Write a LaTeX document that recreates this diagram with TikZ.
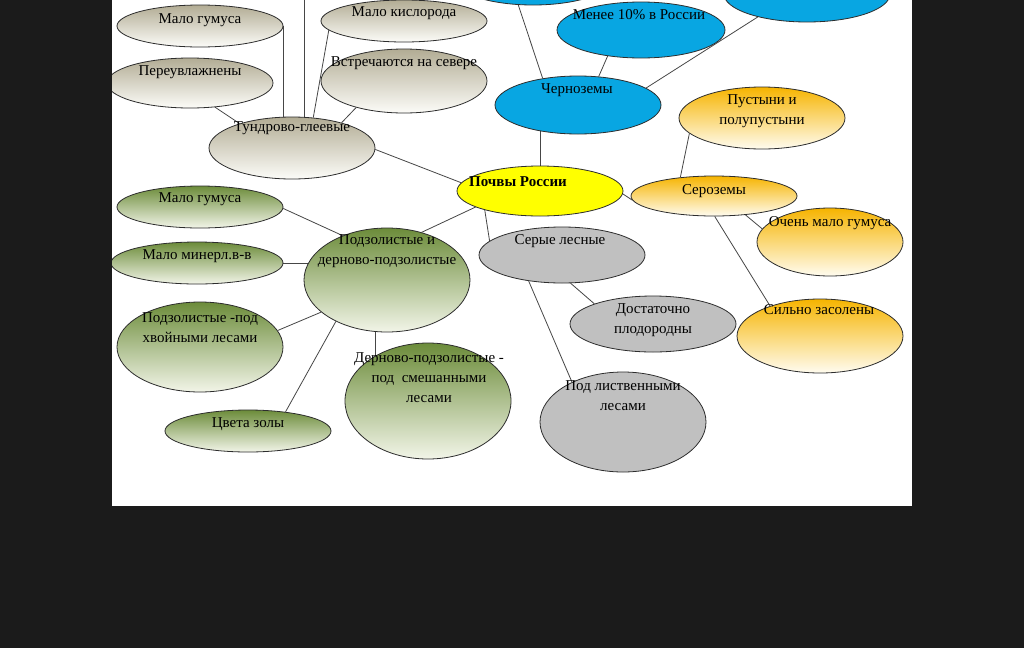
\documentclass[tikz,border=0pt]{standalone}
\usepackage{fontspec}
\setmainfont{Liberation Serif}
\usetikzlibrary{shapes.geometric}
\pgfdeclarelayer{bg}
\pgfsetlayers{bg,main}
\definecolor{dark}{RGB}{27,27,27}
\definecolor{edge}{RGB}{45,45,45}
\definecolor{conncol}{RGB}{70,70,70}
\definecolor{tunT}{RGB}{178,172,148}
\definecolor{tunB}{RGB}{252,252,248}
\definecolor{grnT}{RGB}{108,140,58}
\definecolor{grnB}{RGB}{242,245,232}
\definecolor{orT}{RGB}{246,180,0}
\definecolor{orB}{RGB}{255,252,240}
\definecolor{blu}{RGB}{8,166,226}
\definecolor{gry}{RGB}{192,192,192}
\definecolor{yel}{RGB}{255,255,0}
\tikzset{
  ell/.style={ellipse, draw=edge, line width=0.8pt, inner sep=0pt},
  tun/.style={ell, top color=tunT, bottom color=tunB},
  grn/.style={ell, top color=grnT, bottom color=grnB},
  orng/.style={ell, top color=orT, bottom color=orB},
  blue/.style={ell, fill=blu},
  grey/.style={ell, fill=gry},
  yell/.style={ell, fill=yel},
  txt/.style={align=center, inner sep=0pt, font=\fontsize{15}{20}\selectfont, text=black},
  conn/.style={draw=conncol, line width=0.8pt},
}
\begin{document}
\begin{tikzpicture}[x=1pt,y=-1pt]
\useasboundingbox (0,0) rectangle (1024,648);

% tundra group
\node[tun, minimum width=166, minimum height=42] (t1) at (200,26) {};
\node[tun, minimum width=166, minimum height=42] (mk) at (404,21) {};
\node[tun, minimum width=166, minimum height=50] (pv) at (190,83) {};
\node[tun, minimum width=166, minimum height=64] (vs) at (404,81) {};
\node[tun, minimum width=166, minimum height=62] (tg) at (292,148) {};

% blue group
\node[blue, minimum width=166, minimum height=58] (bl1) at (533,-24) {};
\node[blue, minimum width=166, minimum height=56] (bl2) at (807,-6) {};
\node[blue, minimum width=168, minimum height=56] (mn) at (641,30) {};
\node[blue, minimum width=166, minimum height=58] (ch) at (578,105) {};

% centre
\node[yell, minimum width=166, minimum height=50] (pr) at (540,191) {};

% orange group
\node[orng, minimum width=166, minimum height=62] (pp) at (762,118) {};
\node[orng, minimum width=166, minimum height=40] (sz) at (714,196) {};
\node[orng, minimum width=146, minimum height=68] (om) at (830,242) {};
\node[orng, minimum width=166, minimum height=74] (sl) at (820,336) {};

% grey group
\node[grey, minimum width=166, minimum height=56] (se) at (562,255) {};
\node[grey, minimum width=166, minimum height=56] (dp) at (653,324) {};
\node[grey, minimum width=166, minimum height=100] (pl) at (623,422) {};

% green group
\node[grn, minimum width=166, minimum height=42] (gm) at (200,207) {};
\node[grn, minimum width=172, minimum height=42] (mm) at (197,263) {};
\node[grn, minimum width=166, minimum height=104] (pz) at (387,280) {};
\node[grn, minimum width=166, minimum height=90] (ph) at (200,347) {};
\node[grn, minimum width=166, minimum height=42] (cz) at (248,431) {};
\node[grn, minimum width=166, minimum height=116] (dz) at (428,401) {};

% texts
\node[txt] (t1t) at (200,20.5) {Мало гумуса};
\node[txt] (mkt) at (404,13.5) {Мало кислорода};
\node[txt] (pvt) at (190,72.5) {Переувлажнены};
\node[txt] (vst) at (404,63.5) {Встречаются на севере};
\node[txt] (tgt) at (292,128.5) {Тундрово-глеевые};
\node[txt] (mnt) at (639,14.5) {Менее 10\% в России};
\node[txt] (cht) at (577,90.5) {Черноземы};
\node[txt, font=\fontsize{15}{20}\selectfont\bfseries] (prt) at (518,181.5) {Почвы России};
\node[txt] (ppt) at (762,111.5) {Пустыни и\\полупустыни};
\node[txt] (szt) at (714,191.5) {Сероземы};
\node[txt] (omt) at (830,223.5) {Очень мало гумуса};
\node[txt] (slt) at (819,309.5) {Сильно засолены};
\node[txt] (set) at (560,241.5) {Серые лесные};
\node[txt] (dpt) at (653,320.5) {Достаточно\\плодородны};
\node[txt] (plt) at (623,395.5) {Под лиственными\\лесами};
\node[txt] (gmt) at (200,199.5) {Мало гумуса};
\node[txt] (mmt) at (197,256.5) {Мало минерл.в-в};
\node[txt] (pzt) at (387,251.5) {Подзолистые и\\дерново-подзолистые};
\node[txt] (pht) at (200,327.5) {Подзолистые -под\\хвойными лесами};
\node[txt] (czt) at (248,424.5) {Цвета золы};
\node[txt] (dzt) at (429,377.5) {Дерново-подзолистые -\\под\ \ смешанными\\лесами};

% white sheet and connectors (behind the ellipses)
\begin{pgfonlayer}{bg}
\fill[white] (112,0) rectangle (912,506);
\coordinate (topA) at (304,-10);
\draw[conn] (t1.east) -- (t1.east |- tg.center);
\draw[conn] (topA) -- (topA |- tg.center);
\draw[conn] (mk.187) -- (tg.55);
\draw[conn] (vs.209) -- (tg.27);
\draw[conn] (pv.316) -- (tg.155);
\draw[conn] (tg.359) -- (pr.174);
\draw[conn] (bl1.243) -- (ch.143);
\draw[conn] (bl2.205) -- (ch.14);
\draw[conn] (mn.218) -- (ch.54);
\draw[conn] (pr.north) -- (pr.north |- ch.center);
\draw[conn] (pr.358) -- (sz.183);
\draw[conn] (pp.192) -- (sz.151);
\draw[conn] (sz.329) -- (om.169);
\draw[conn] (sz.272) -- (sl.149);
\draw[conn] (pr.199) -- (se.169);
\draw[conn] (se.287) -- (dp.161);
\draw[conn] (se.218) -- (pl.142);
\draw[conn] (gm.359) -- (pz.135);
\draw[conn] (mm.east) -- (mm.east -| pz.center);
\draw[conn] (pr.194) -- (pz.54);
\draw[conn] (ph.12) -- (pz.206);
\draw[conn] (cz.27) -- (pz.219);
\draw[conn] (pz.257) -- (pz.257 |- dz.center);
\end{pgfonlayer}

% dark surround
\fill[dark] (0,-60) rectangle (112,648);
\fill[dark] (912,-60) rectangle (1024,648);
\fill[dark] (112,506) rectangle (912,648);
\end{tikzpicture}
\end{document}
